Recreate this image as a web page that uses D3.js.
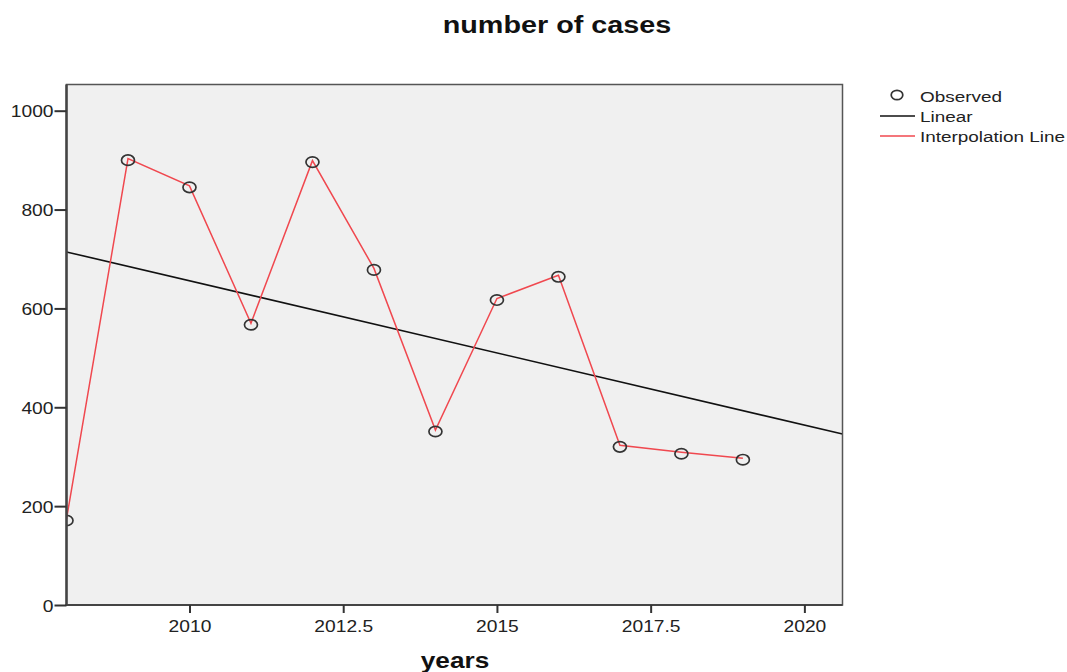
<!DOCTYPE html>
<html>
<head>
<meta charset="utf-8">
<script src="https://cdn.jsdelivr.net/npm/d3@7"></script>
<style>
  html, body { margin: 0; padding: 0; background: #fff; }
  svg { display: block; font-family: "Liberation Sans", Arial, sans-serif; }
</style>
</head>
<body>
<svg id="chart" width="1067" height="672"></svg>
<script>
// Yearly case counts
const years = [2008, 2009, 2010, 2011, 2012, 2013, 2014, 2015, 2016, 2017, 2018, 2019];
const cases = [174, 903, 848, 570, 899, 681, 354, 620, 667, 323, 309, 297];
const xTicks = [2010, 2012.5, 2015, 2017.5, 2020];
const yTicks = [0, 200, 400, 600, 800, 1000];
const legendLabels = ["Observed", "Linear", "Interpolation Line"];

const svg = d3.select("#chart");
const plot = { left: 66.5, right: 842.5, top: 84.5, bottom: 605 };

const x = d3.scaleLinear().domain([2008, 2020.62]).range([plot.left, plot.right]);
const y = d3.scaleLinear().domain([0, 1053]).range([plot.bottom, plot.top]);

// Widen text glyphs horizontally by a factor
function widen(sel, factor) {
  sel.each(function () {
    const w = this.getComputedTextLength();
    d3.select(this).attr("textLength", w * factor).attr("lengthAdjust", "spacingAndGlyphs");
  });
}

// Least-squares fit of cases on year
const mx = d3.mean(years), my = d3.mean(cases);
const slope = d3.sum(years, (v, i) => (v - mx) * (cases[i] - my)) / d3.sum(years, v => (v - mx) ** 2);
const intercept = my - slope * mx;
const fit = v => intercept + slope * v;

// Title
svg.append("text")
  .attr("x", 557).attr("y", 33)
  .attr("text-anchor", "middle")
  .attr("font-size", 23).attr("font-weight", "bold")
  .attr("fill", "#111")
  .text("number of cases")
  .call(widen, 1.25);

// Plot background
svg.append("rect")
  .attr("x", plot.left).attr("y", plot.top)
  .attr("width", plot.right - plot.left).attr("height", plot.bottom - plot.top)
  .attr("fill", "#f0f0f0");

svg.append("clipPath").attr("id", "clip")
  .append("rect")
  .attr("x", plot.left).attr("y", plot.top)
  .attr("width", plot.right - plot.left).attr("height", plot.bottom - plot.top);

const g = svg.append("g").attr("clip-path", "url(#clip)");

// Linear fit
const xd = x.domain();
g.append("line")
  .attr("x1", x(xd[0])).attr("y1", y(fit(xd[0])))
  .attr("x2", x(xd[1])).attr("y2", y(fit(xd[1])))
  .attr("stroke", "#111").attr("stroke-width", 1.6);

// Interpolation line
g.append("path")
  .datum(years.map((v, i) => [v, cases[i]]))
  .attr("d", d3.line().x(d => x(d[0])).y(d => y(d[1])))
  .attr("fill", "none")
  .attr("stroke", "#f0484f").attr("stroke-width", 1.5);

// Observed points
g.selectAll("ellipse.obs")
  .data(years.map((v, i) => [v, cases[i]]))
  .join("ellipse")
  .attr("class", "obs")
  .attr("cx", d => x(d[0])).attr("cy", d => y(d[1]) + 1.5)
  .attr("rx", 6.5).attr("ry", 5.2)
  .attr("fill", "none")
  .attr("stroke", "#333").attr("stroke-width", 1.7);

// Frame
svg.append("rect")
  .attr("x", plot.left).attr("y", plot.top)
  .attr("width", plot.right - plot.left).attr("height", plot.bottom - plot.top)
  .attr("fill", "none").attr("stroke", "#555").attr("stroke-width", 1.5);
svg.append("line")
  .attr("x1", plot.left).attr("x2", plot.left)
  .attr("y1", plot.top).attr("y2", plot.bottom + 1)
  .attr("stroke", "#444").attr("stroke-width", 2.5);
svg.append("line")
  .attr("x1", plot.left - 1).attr("x2", plot.right)
  .attr("y1", plot.bottom).attr("y2", plot.bottom)
  .attr("stroke", "#444").attr("stroke-width", 2);

// Axes
const xAxis = svg.append("g")
  .attr("transform", `translate(0,${plot.bottom})`)
  .call(d3.axisBottom(x).tickValues(xTicks).tickSize(8).tickPadding(7)
    .tickFormat(d => String(d)));
const yAxis = svg.append("g")
  .attr("transform", `translate(${plot.left},0)`)
  .call(d3.axisLeft(y).tickValues(yTicks).tickSize(12).tickPadding(1)
    .tickFormat(d => String(d)));
[xAxis, yAxis].forEach(a => {
  a.select(".domain").remove();
  a.selectAll(".tick line").attr("stroke", "#333").attr("stroke-width", 2);
  a.selectAll(".tick text")
    .attr("font-size", 17)
    .attr("font-family", "'Liberation Sans', Arial, sans-serif")
    .attr("fill", "#222")
    .call(widen, 1.13);
});
yAxis.selectAll(".tick text").attr("dy", "0.36em");

// Axis title
svg.append("text")
  .attr("x", 455).attr("y", 668)
  .attr("text-anchor", "middle")
  .attr("font-size", 22).attr("font-weight", "bold")
  .attr("fill", "#111")
  .text("years")
  .call(widen, 1.19);

// Legend
const lg = svg.append("g").attr("font-size", 15.5).attr("fill", "#222");
lg.append("ellipse")
  .attr("cx", 897).attr("cy", 95)
  .attr("rx", 5.8).attr("ry", 4.7)
  .attr("fill", "none").attr("stroke", "#333").attr("stroke-width", 1.7);
lg.append("line").attr("x1", 880).attr("x2", 915).attr("y1", 116).attr("y2", 116)
  .attr("stroke", "#111").attr("stroke-width", 1.6);
lg.append("line").attr("x1", 880).attr("x2", 915).attr("y1", 136).attr("y2", 136)
  .attr("stroke", "#f0484f").attr("stroke-width", 1.5);
lg.selectAll("text")
  .data(legendLabels)
  .join("text")
  .attr("x", 920)
  .attr("y", (d, i) => 102 + i * 20)
  .attr("fill", "#222")
  .text(d => d)
  .call(widen, 1.22);
</script>
</body>
</html>
